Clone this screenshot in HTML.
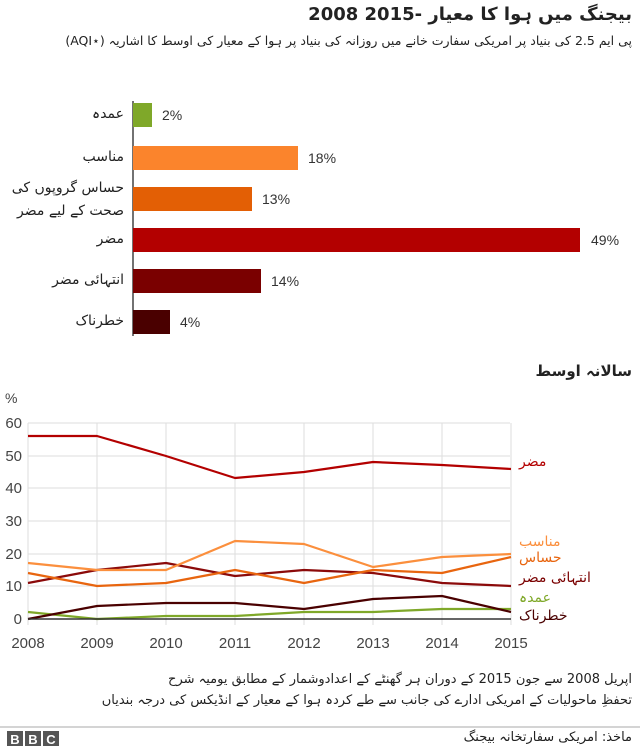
<!DOCTYPE html>
<html><head><meta charset="utf-8">
<style>
body{margin:0;width:640px;height:750px;background:#fff;position:relative;overflow:hidden;font-family:"Liberation Sans","DejaVu Sans",sans-serif;}
.u{font-family:"DejaVu Sans",sans-serif;direction:rtl;position:absolute;white-space:nowrap;color:#222;}
</style></head><body>
<div class="u" style="right:8px;top:4px;font-size:18px;font-weight:bold;">بیجنگ میں ہوا کا معیار <bdi dir="ltr">2008 2015-</bdi></div>
<div class="u" style="right:8px;top:33px;font-size:12.5px;">پی ایم 2.5 کی بنیاد پر امریکی سفارت خانے میں روزانہ کی بنیاد پر ہوا کے معیار کی اوسط کا اشاریہ <bdi dir="ltr">(AQI⋆)</bdi></div>
<div class="u" style="right:516px;top:106px;font-size:14px;">عمدہ</div>
<div class="u" style="right:516px;top:149px;font-size:14px;">مناسب</div>
<div class="u" style="right:516px;top:177px;font-size:14px;line-height:23px;text-align:right;">حساس گروپوں کی<br>صحت کے لیے مضر</div>
<div class="u" style="right:516px;top:231px;font-size:14px;">مضر</div>
<div class="u" style="right:516px;top:272px;font-size:14px;">انتہائی مضر</div>
<div class="u" style="right:516px;top:313px;font-size:14px;">خطرناک</div>
<div class="u" style="right:8px;top:362px;font-size:15px;font-weight:bold;">سالانہ اوسط</div>
<svg width="640" height="750" style="position:absolute;left:0;top:0" font-family="Liberation Sans, sans-serif">
<line x1="133" y1="101" x2="133" y2="336" stroke="#444" stroke-width="1.5"/>
<rect x="133" y="103" width="19" height="24" fill="#7fa829"/>
<rect x="133" y="146" width="165" height="24" fill="#fb842c"/>
<rect x="133" y="187" width="119" height="24" fill="#e35f05"/>
<rect x="133" y="228" width="447" height="24" fill="#b30000"/>
<rect x="133" y="269" width="128" height="24" fill="#7a0000"/>
<rect x="133" y="310" width="37" height="24" fill="#4a0000"/>
<g font-size="14" fill="#333">
<text x="162" y="120">2%</text><text x="308" y="163">18%</text><text x="262" y="204">13%</text>
<text x="591" y="245">49%</text><text x="271" y="286">14%</text><text x="180" y="327">4%</text>
</g>
<text x="5" y="403" font-size="14" fill="#444">%</text>
<g stroke="#ddd" stroke-width="1">
<line x1="28" y1="423" x2="510" y2="423"/><line x1="28" y1="456" x2="510" y2="456"/>
<line x1="28" y1="488" x2="510" y2="488"/><line x1="28" y1="521" x2="510" y2="521"/>
<line x1="28" y1="554" x2="510" y2="554"/><line x1="28" y1="586" x2="510" y2="586"/>
<line x1="28" y1="423" x2="28" y2="625"/><line x1="97" y1="423" x2="97" y2="625"/>
<line x1="166" y1="423" x2="166" y2="625"/><line x1="235" y1="423" x2="235" y2="625"/>
<line x1="304" y1="423" x2="304" y2="625"/><line x1="373" y1="423" x2="373" y2="625"/>
<line x1="442" y1="423" x2="442" y2="625"/><line x1="511" y1="423" x2="511" y2="625"/>
</g>
<g font-size="15" fill="#444" text-anchor="end">
<text x="22" y="428">60</text><text x="22" y="461">50</text><text x="22" y="493">40</text>
<text x="22" y="526">30</text><text x="22" y="559">20</text><text x="22" y="591">10</text><text x="22" y="624">0</text>
</g>
<g font-size="15" fill="#444" text-anchor="middle">
<text x="28" y="648">2008</text><text x="97" y="648">2009</text><text x="166" y="648">2010</text><text x="235" y="648">2011</text>
<text x="304" y="648">2012</text><text x="373" y="648">2013</text><text x="442" y="648">2014</text><text x="511" y="648">2015</text>
</g>
<g fill="none" stroke-width="2.2" stroke-linejoin="round">
<polyline stroke="#7fa829" points="28,612 97,619 166,616 235,616 304,612 373,612 442,609 511,609"/>
<polyline stroke="#4a0000" points="28,619 97,606 166,603 235,603 304,609 373,599 442,596 511,612"/>
<polyline stroke="#8b0a0a" points="28,583 97,570 166,563 235,576 304,570 373,573 442,583 511,586"/>
<polyline stroke="#e8650f" points="28,573 97,586 166,583 235,570 304,583 373,570 442,573 511,557"/>
<polyline stroke="#fb8f3d" points="28,563 97,570 166,570 235,541 304,544 373,567 442,557 511,554"/>
<polyline stroke="#b30000" points="28,436 97,436 166,456 235,478 304,472 373,462 442,465 511,469"/>
</g>
<line x1="28" y1="619" x2="511" y2="619" stroke="#333" stroke-width="1.5"/>
<line x1="0" y1="727" x2="640" y2="727" stroke="#aaa" stroke-width="1"/>
<g fill="#555"><rect x="7" y="731" width="16" height="15"/><rect x="25" y="731" width="16" height="15"/><rect x="43" y="731" width="16" height="15"/></g>
<g fill="#fff" font-size="13" font-weight="bold" text-anchor="middle"><text x="15" y="744">B</text><text x="33" y="744">B</text><text x="51" y="744">C</text></g>
</svg>
<div class="u" style="left:519px;top:454px;font-size:14px;color:#b30000;direction:ltr;">مضر</div>
<div class="u" style="left:519px;top:534px;font-size:14px;color:#fb8f3d;direction:ltr;">مناسب</div>
<div class="u" style="left:519px;top:550px;font-size:14px;color:#e8650f;direction:ltr;">حساس</div>
<div class="u" style="left:519px;top:570px;font-size:14px;color:#7a0000;direction:ltr;">انتہائی مضر</div>
<div class="u" style="left:519px;top:590px;font-size:14px;color:#7fa829;direction:ltr;">عمدہ</div>
<div class="u" style="left:519px;top:608px;font-size:14px;color:#4a0000;direction:ltr;">خطرناک</div>
<div class="u" style="right:8px;top:672px;font-size:13px;">اپریل 2008 سے جون 2015 کے دوران ہر گھنٹے کے اعدادوشمار کے مطابق یومیہ شرح</div>
<div class="u" style="right:8px;top:693px;font-size:13px;">تحفظِ ماحولیات کے امریکی ادارے کی جانب سے طے کردہ ہوا کے معیار کے انڈیکس کی درجہ بندیاں</div>
<div class="u" style="right:8px;top:730px;font-size:13px;">ماخذ: امریکی سفارتخانہ بیجنگ</div>
</body></html>
